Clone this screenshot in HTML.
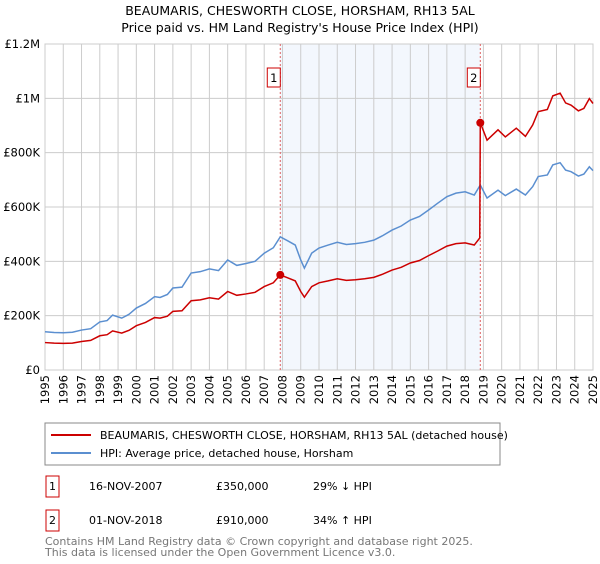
<!DOCTYPE html>
<html><head><meta charset="utf-8"><style>
body{margin:0;background:#fff;font-family:"DejaVu Sans","Liberation Sans",sans-serif;}
svg text{font-family:"DejaVu Sans","Liberation Sans",sans-serif;}
</style></head><body>
<svg id="chart" width="600" height="560" xmlns="http://www.w3.org/2000/svg">
<text x="300" y="15" text-anchor="middle" font-size="12.5">BEAUMARIS, CHESWORTH CLOSE, HORSHAM, RH13 5AL</text>
<text x="300" y="32" text-anchor="middle" font-size="12.5">Price paid vs. HM Land Registry's House Price Index (HPI)</text>
<g id="plot"></g>
<g>
<rect x="45" y="423" width="455" height="42" fill="#fff" stroke="#888"/>
<line x1="51" y1="435" x2="91" y2="435" stroke="#cc0000" stroke-width="2"/>
<text x="100" y="439" font-size="11">BEAUMARIS, CHESWORTH CLOSE, HORSHAM, RH13 5AL (detached house)</text>
<line x1="51" y1="453" x2="91" y2="453" stroke="#5b8fd0" stroke-width="2"/>
<text x="100" y="457" font-size="11">HPI: Average price, detached house, Horsham</text>
</g>
<g font-size="11">
<rect x="46" y="476" width="13" height="21" fill="#fff" stroke="#cc0000"/>
<text x="52.5" y="490" text-anchor="middle">1</text>
<text x="89" y="490">16-NOV-2007</text><text x="216" y="490">£350,000</text><text x="313" y="490">29% ↓ HPI</text>
<rect x="46" y="510" width="13" height="21" fill="#fff" stroke="#cc0000"/>
<text x="52.5" y="524" text-anchor="middle">2</text>
<text x="89" y="524">01-NOV-2018</text><text x="216" y="524">£910,000</text><text x="313" y="524">34% ↑ HPI</text>
</g>
<text x="45" y="545" font-size="11" fill="#777">Contains HM Land Registry data © Crown copyright and database right 2025.</text>
<text x="45" y="556" font-size="11" fill="#777">This data is licensed under the Open Government Licence v3.0.</text>
</svg>
<script>
const hpiDates=[1995,1995.5,1996,1996.5,1997,1997.5,1998,1998.4,1998.7,1999.2,1999.6,2000,2000.5,2001,2001.3,2001.7,2002,2002.5,2003,2003.5,2004,2004.5,2005,2005.5,2006,2006.5,2007,2007.5,2007.88,2008.3,2008.7,2009.0,2009.2,2009.6,2010,2010.5,2011,2011.5,2012,2012.5,2013,2013.5,2014,2014.5,2015,2015.5,2016,2016.5,2017,2017.5,2018,2018.5,2018.83,2019.2,2019.8,2020.2,2020.8,2021.3,2021.7,2022,2022.5,2022.8,2023.2,2023.5,2023.8,2024.2,2024.5,2024.8,2025];
const hpiValues=[141,138,137,139,147,152,177,182,202,191,205,228,245,270,267,278,302,305,357,362,372,366,405,385,392,400,430,450,490,475,460,405,375,430,449,460,470,462,465,470,478,495,515,530,552,565,589,614,638,651,656,644,681,633,662,642,666,644,675,712,718,755,763,736,730,714,721,748,734];
const priceDates=[1995,1995.5,1996,1996.5,1997,1997.5,1998,1998.4,1998.7,1999.2,1999.6,2000,2000.5,2001,2001.3,2001.7,2002,2002.5,2003,2003.5,2004,2004.5,2005,2005.5,2006,2006.5,2007,2007.5,2007.88,2008.3,2008.7,2009.0,2009.2,2009.6,2010,2010.5,2011,2011.5,2012,2012.5,2013,2013.5,2014,2014.5,2015,2015.5,2016,2016.5,2017,2017.5,2018,2018.5,2018.8,2018.83,2019.2,2019.8,2020.2,2020.8,2021.3,2021.7,2022,2022.5,2022.8,2023.2,2023.5,2023.8,2024.2,2024.5,2024.8,2025];
const priceValues=[101,99,98,99,105,109,126,130,144,136,146,163,175,193,191,198,216,218,255,258,266,261,289,275,280,286,307,321,350,339,328,289,268,307,321,328,336,330,332,336,341,353,368,378,394,403,421,438,456,465,468,460,486,910,846,884,858,890,860,902,951,959,1009,1019,983,975,954,963,999,981];
const saleDates=[2007.88,2018.83];
const saleValues=[350,910];
const saleLabels=["1","2"];
const yTicks=[0,200,400,600,800,1000,1200];
const yTickLabels=["£0","£200K","£400K","£600K","£800K","£1M","£1.2M"];
const xTicks=[1995,1996,1997,1998,1999,2000,2001,2002,2003,2004,2005,2006,2007,2008,2009,2010,2011,2012,2013,2014,2015,2016,2017,2018,2019,2020,2021,2022,2023,2024,2025];

const L=45,R=593,T=44,B=370;
const x=d=>L+(d-1995)/30*(R-L);
const y=v=>B-v/1200*(B-T);
const NS="http://www.w3.org/2000/svg";
const g=document.getElementById('plot');
function mk(tag,attrs,parent){const e=document.createElementNS(NS,tag);for(const k in attrs)e.setAttribute(k,attrs[k]);(parent||g).appendChild(e);return e;}

const sh=mk('rect',{x:x(saleDates[0]),y:T,width:x(saleDates[1])-x(saleDates[0]),height:B-T,fill:'#eef3fc',opacity:0.7});


xTicks.forEach(t=>{
  const l=mk('line',{x1:x(t),x2:x(t),y1:T,y2:B,stroke:'#cccccc'});
  
  
  const px=x(t)+4, py=B+5;
  const tx=mk('text',{x:px,y:py,'font-size':11.5,'text-anchor':'end',transform:'rotate(-90 '+px+' '+py+')'});
  tx.textContent=t;
  
  
});
yTicks.forEach((t,i)=>{
  const l=mk('line',{x1:L,x2:R,y1:y(t),y2:y(t),stroke:'#cccccc'});
  
  
  const tx=mk('text',{x:L-5,y:y(t)+4,'font-size':11.5,'text-anchor':'end'});
  tx.textContent=yTickLabels[i];
  
  
});
const fr=mk('rect',{x:L,y:T,width:R-L,height:B-T,fill:'none',stroke:'#cccccc'});


saleDates.forEach((d,i)=>{
  const l=mk('line',{x1:x(d),x2:x(d),y1:T,y2:B,stroke:'#e06060','stroke-dasharray':'2,2'});
  
  
  const bx=mk('rect',{x:x(d)-13,y:68,width:13,height:19,fill:'#fff',stroke:'#cc0000'});
  
  
  const tx=mk('text',{x:x(d)-6.5,y:82,'font-size':11.5,'text-anchor':'middle'});
  tx.textContent=saleLabels[i];
  
  
});
const hp=mk('polyline',{points:hpiDates.map((d,i)=>x(d)+','+y(hpiValues[i])).join(' '),fill:'none',stroke:'#5b8fd0','stroke-width':1.5});


const pp=mk('polyline',{points:priceDates.map((d,i)=>x(d)+','+y(priceValues[i])).join(' '),fill:'none',stroke:'#cc0000','stroke-width':1.5});


saleDates.forEach((d,i)=>{
  const c=mk('circle',{cx:x(d),cy:y(saleValues[i]),r:4,fill:'#cc0000'});
  
  
});
</script>
</body></html>
